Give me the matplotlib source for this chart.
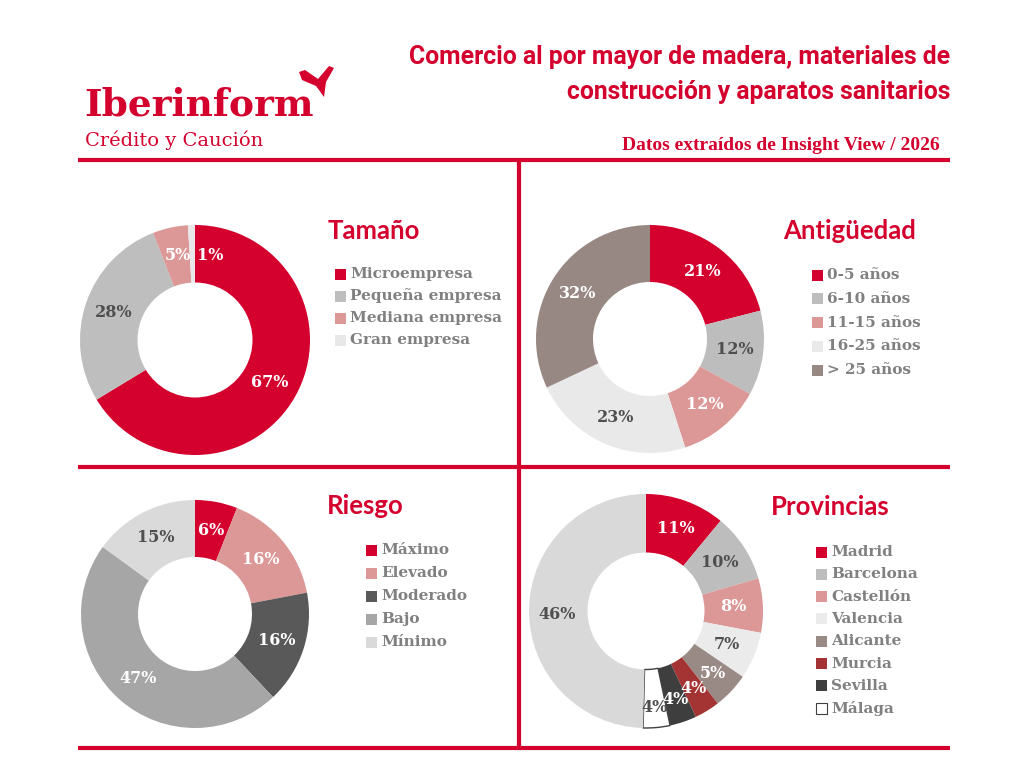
import matplotlib
matplotlib.use('Agg')
import matplotlib.pyplot as plt
from matplotlib.patches import Rectangle, Polygon
import numpy as np

# ---------------- data ----------------
tam_labels = ['Microempresa', 'Pequeña empresa', 'Mediana empresa', 'Gran empresa']
tam_values = [67, 28, 5, 1]

ant_labels = ['0-5 años', '6-10 años', '11-15 años', '16-25 años', '> 25 años']
ant_values = [21, 12, 12, 23, 32]

rie_labels = ['Máximo', 'Elevado', 'Moderado', 'Bajo', 'Mínimo']
rie_values = [6, 16, 16, 47, 15]

prov_labels = ['Madrid', 'Barcelona', 'Castellón', 'Valencia', 'Alicante',
               'Murcia', 'Sevilla', 'Málaga']
# wedge sizes as drawn in the picture (last one = rest of provinces)
prov_shares = [11, 9.5, 7.5, 6.5, 5, 3.5, 3.7, 3.7, 49.6]
# percentages printed on the wedges
prov_pct = [11, 10, 8, 7, 5, 4, 4, 4, 46]

# ---------------- styles ----------------
RED = '#D4002D'
GRAYTXT = '#808080'
DARK = '#4F4F4F'
W, H = 1024, 768

tam_colors = [RED, '#BEBEBE', '#DC9797', '#E8E8E8']
tam_txt = ['white', DARK, 'white', 'white']
ant_colors = [RED, '#BDBDBD', '#DC9797', '#E9E9E9', '#978883']
ant_txt = ['white', DARK, 'white', DARK, 'white']
rie_colors = [RED, '#DC9797', '#595959', '#A6A6A6', '#DADADA']
rie_txt = ['white', 'white', 'white', 'white', DARK]
prov_colors = [RED, '#BDBDBD', '#DC9797', '#EBEBEB', '#998A85', '#A43333',
               '#3E3E3E', 'white', '#D9D9D9']
prov_txt = ['white', DARK, 'white', DARK, 'white', 'white', 'white', DARK, DARK]

SERIF = ['DejaVu Serif']
fig = plt.figure(figsize=(10.24, 7.68), dpi=100)
bg = fig.add_axes([0, 0, 1, 1])
bg.set_xlim(0, W)
bg.set_ylim(H, 0)
bg.axis('off')

# ---------------- frame lines ----------------
lw = 3.0
bg.plot([78, 950], [160, 160], color=RED, lw=lw, solid_capstyle='butt')
bg.plot([78, 950], [467, 467], color=RED, lw=lw, solid_capstyle='butt')
bg.plot([78, 950], [748, 748], color=RED, lw=lw, solid_capstyle='butt')
bg.plot([519, 519], [160, 748], color=RED, lw=lw, solid_capstyle='butt')

# ---------------- header ----------------
bg.text(84, 116, 'Iberinform', fontsize=27, fontweight='bold', color=RED,
        family=SERIF, ha='left', va='baseline')
bg.text(85, 146, 'Crédito y Caución', fontsize=14, color=RED,
        family=SERIF, ha='left', va='baseline')
bg.add_patch(Polygon([(299, 72), (305, 70), (318, 79), (329, 66), (334, 68),
                      (326, 82), (324, 97), (319, 90), (316, 86), (302, 80)],
                     closed=True, facecolor=RED, edgecolor='none'))

TITLEF = ['Roboto', 'DejaVu Sans']
bg.text(950, 57, 'Comercio al por mayor de madera, materiales de', fontsize=17.8,
        fontweight='bold', color=RED, family=TITLEF, ha='right', va='center')
bg.text(950, 92, 'construcción y aparatos sanitarios', fontsize=17.8,
        fontweight='bold', color=RED, family=TITLEF, ha='right', va='center')
bg.text(940, 145, 'Datos extraídos de Insight View / 2026', fontsize=14,
        fontweight='bold', color=RED, family=['Liberation Serif'],
        ha='right', va='center')

SECT = ['Lato', 'DejaVu Sans']
bg.text(328, 231, 'Tamaño', fontsize=18.5, fontweight='bold', color=RED,
        family=SECT, ha='left', va='center')
bg.text(783, 231, 'Antigüedad', fontsize=18.5, fontweight='bold', color=RED,
        family=SECT, ha='left', va='center')
bg.text(327, 506, 'Riesgo', fontsize=18.5, fontweight='bold', color=RED,
        family=SECT, ha='left', va='center')
bg.text(771, 507, 'Provincias', fontsize=18.5, fontweight='bold', color=RED,
        family=SECT, ha='left', va='center')


def legend(x, y0, dy, labels, colors, edges=None):
    for i, (lab, col) in enumerate(zip(labels, colors)):
        y = y0 + i * dy
        ec = edges[i] if edges else 'none'
        bg.add_patch(Rectangle((x, y - 5.5), 11, 11, facecolor=col,
                               edgecolor=ec, lw=0.8))
        bg.text(x + 15, y, lab, fontsize=11, fontweight='bold',
                color=GRAYTXT, family=SERIF, ha='left', va='center')


legend(335, 274, 22, tam_labels, tam_colors)
legend(812, 275, 23.8, ant_labels, ant_colors)
legend(366, 550, 23, rie_labels, rie_colors)
prov_edges = ['none'] * 7 + ['#404040']
legend(816, 552, 22.3, prov_labels, prov_colors[:8], prov_edges)


def donut(cx, cy, r, values, colors, txtcolors, texts=None, edges=None,
          shifts=None, radii=None):
    pad = 1.04
    ax = fig.add_axes([(cx - r * pad) / W, 1 - (cy + r * pad) / H,
                       2 * r * pad / W, 2 * r * pad / H])
    wedges, _ = ax.pie(values, colors=colors, startangle=90,
                       counterclock=False, radius=1,
                       wedgeprops=dict(width=0.5, edgecolor='none'))
    if edges:
        for w, e in zip(wedges, edges):
            if e != 'none':
                w.set_edgecolor(e)
                w.set_linewidth(1.0)
    ax.set_xlim(-pad, pad)
    ax.set_ylim(-pad, pad)
    ax.set_aspect('equal')
    ax.axis('off')
    texts = texts if texts is not None else values
    for i, (w, v) in enumerate(zip(wedges, texts)):
        s = shifts[i] if shifts else 0
        rr = radii[i] if radii else 0.75
        ang = np.deg2rad((w.theta1 + w.theta2) / 2 + s)
        ax.text(rr * np.cos(ang), rr * np.sin(ang), f'{v}%', fontsize=11.5,
                fontweight='bold', color=txtcolors[i], family=SERIF,
                ha='center', va='center')
    return ax


donut(195, 340, 115, tam_values, tam_colors, tam_txt,
      shifts=[0, 0, -1, -12])
donut(650, 339, 114, ant_values, ant_colors, ant_txt)
donut(195, 614, 114, rie_values, rie_colors, rie_txt)
donut(646, 611, 117, prov_shares, prov_colors, prov_txt, texts=prov_pct,
      edges=['none'] * 7 + ['#404040', 'none'],
      shifts=[0, 0, 0, 0, 0, 0, 0, 0, 3],
      radii=[0.75, 0.75, 0.75, 0.75, 0.78, 0.78, 0.8, 0.83, 0.76])

fig.savefig('out.png', dpi=100, facecolor='white')
